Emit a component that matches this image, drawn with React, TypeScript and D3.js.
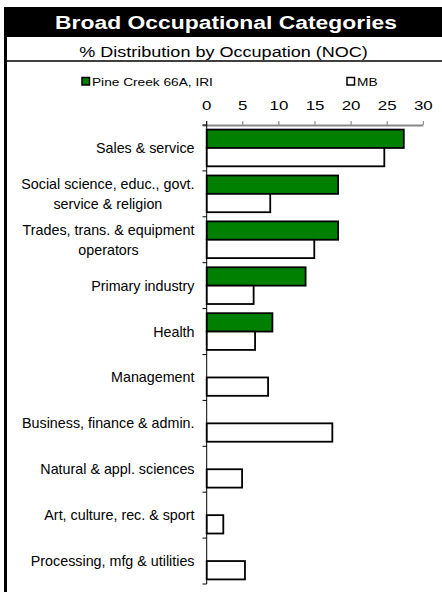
import React from "react";
import * as d3 from "d3";

const categories: string[] = [
  "Sales & service",
  "Social science, educ., govt.|service & religion",
  "Trades, trans. & equipment|operators",
  "Primary industry",
  "Health",
  "Management",
  "Business, finance & admin.",
  "Natural & appl. sciences",
  "Art, culture, rec. & sport",
  "Processing, mfg & utilities",
];
const pineCreek: number[] = [27.3, 18.2, 18.2, 13.7, 9.1, 0, 0, 0, 0, 0];
const mb: number[] = [24.6, 8.8, 14.9, 6.5, 6.7, 8.5, 17.4, 4.9, 2.3, 5.3];
const xTicks: number[] = [0, 5, 10, 15, 20, 25, 30];
const seriesNames: string[] = ["Pine Creek 66A, IRI", "MB"];

const W = 442;
const H = 592;
const FONT = "'Liberation Sans', Arial, sans-serif";
const GREEN = "#008000";

let ctx: CanvasRenderingContext2D | null = null;
function measure(text: string, size: number): number {
  if (!ctx) {
    const c = document.createElement("canvas");
    ctx = c.getContext("2d");
  }
  if (!ctx) return text.length * size * 0.5;
  ctx.font = `${size}px 'Liberation Sans', Arial, sans-serif`;
  return ctx.measureText(text).width;
}

type STProps = {
  x: number;
  y: number;
  sx: number;
  anchor?: "start" | "middle" | "end";
  size: number;
  fill?: string;
  bold?: boolean;
  children: React.ReactNode;
};
function StretchText({ x, y, sx, anchor = "start", size, fill = "#000", bold, children }: STProps) {
  return (
    <text
      transform={`translate(${x},${y}) scale(${sx},1)`}
      textAnchor={anchor}
      fontSize={size}
      fill={fill}
      fontWeight={bold ? "bold" : "normal"}
    >
      {children}
    </text>
  );
}

export default function App() {
  const x = d3.scaleLinear().domain([0, 30]).range([206.7, 423.3]);
  const y = d3
    .scaleBand<string>()
    .domain(categories)
    .range([125, 584])
    .paddingInner(0.2)
    .paddingOuter(0.1);
  const sub = d3
    .scaleBand<string>()
    .domain(seriesNames)
    .range([0, y.bandwidth()]);
  const edges = d3.range(categories.length + 1).map((i) => 125 + i * y.step());

  const labelSize = 14.3;
  const labelRight = 194.5;

  return (
    <svg
      width={W}
      height={H}
      style={{ position: "absolute", left: 0, top: 0, fontFamily: FONT }}
    >
      <rect x={0} y={0} width={W} height={H} fill="#fff" />
      {/* header */}
      <rect x={4} y={7} width={W - 4} height={30} fill="#000" />
      <StretchText x={226} y={29} sx={1.205} anchor="middle" size={19} fill="#fff" bold>
        Broad Occupational Categories
      </StretchText>
      <StretchText x={223.5} y={57} sx={1.245} anchor="middle" size={14.5}>
        % Distribution by Occupation (NOC)
      </StretchText>
      <line x1={4} x2={W} y1={61} y2={61} stroke="#000" strokeWidth={1.5} />
      <rect x={4} y={7} width={3} height={H - 7} fill="#000" />

      {/* legend */}
      <rect x={82} y={77.5} width={7.5} height={7.5} fill={GREEN} stroke="#000" strokeWidth={1.5} />
      <StretchText x={92} y={86} sx={1.245} size={11}>
        {seriesNames[0]}
      </StretchText>
      <rect x={347} y={77.5} width={7.5} height={7.5} fill="#fff" stroke="#000" strokeWidth={1.5} />
      <StretchText x={357} y={86} sx={1.245} size={11}>
        {seriesNames[1]}
      </StretchText>

      {/* x axis */}
      {xTicks.map((t) => (
        <g key={t}>
          <StretchText x={x(t)} y={109.5} sx={1.25} anchor="middle" size={13.5}>
            {t}
          </StretchText>
          <line x1={x(t)} x2={x(t)} y1={121} y2={125} stroke="#777" strokeWidth={1} />
        </g>
      ))}
      <line x1={202.5} x2={x(30)} y1={125.5} y2={125.5} stroke="#888" strokeWidth={2} />

      {/* bars */}
      {categories.map((c, i) => {
        const y0 = y(c) as number;
        const vals = [pineCreek[i], mb[i]];
        return (
          <g key={c}>
            {vals.map((v, j) =>
              v > 0 ? (
                <rect
                  key={j}
                  x={x(0)}
                  y={y0 + (sub(seriesNames[j]) as number)}
                  width={x(v) - x(0)}
                  height={sub.bandwidth()}
                  fill={j === 0 ? GREEN : "#fff"}
                  stroke="#000"
                  strokeWidth={1.8}
                />
              ) : null
            )}
          </g>
        );
      })}

      {/* y axis */}
      <line x1={x(0)} x2={x(0)} y1={121} y2={584} stroke="#000" strokeWidth={1} />
      {edges.map((e, i) => (
        <line key={i} x1={202.5} x2={x(0)} y1={e} y2={e} stroke="#000" strokeWidth={1} />
      ))}

      {/* category labels */}
      {categories.map((c) => {
        const lines = c.split("|");
        const cy = (y(c) as number) + y.bandwidth() / 2;
        if (lines.length === 1) {
          return (
            <text key={c} x={labelRight} y={cy + 5} textAnchor="end" fontSize={labelSize} fill="#000">
              {c}
            </text>
          );
        }
        const maxW = Math.max(...lines.map((l) => measure(l, labelSize)));
        const cx = labelRight - maxW / 2;
        return (
          <text key={c} textAnchor="middle" fontSize={labelSize} fill="#000">
            {lines.map((l, k) => (
              <tspan key={k} x={cx} y={cy + 5 + (k - (lines.length - 1) / 2) * 20}>
                {l}
              </tspan>
            ))}
          </text>
        );
      })}
    </svg>
  );
}
